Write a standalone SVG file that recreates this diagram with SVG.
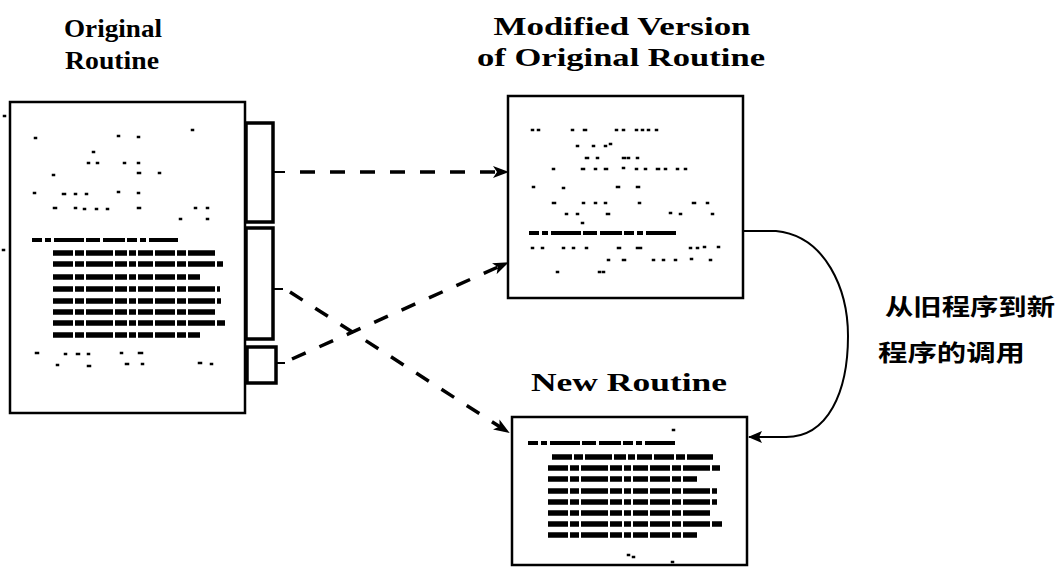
<svg xmlns="http://www.w3.org/2000/svg" width="1058" height="568" viewBox="0 0 1058 568">
<style>
.bg{fill:#fff}
.page{fill:#fff;stroke:#000;stroke-width:2.5}
.tab{fill:#fff;stroke:#000;stroke-width:3.5}
.title{font-family:"Liberation Serif",serif;font-weight:bold;font-size:25px;fill:#000;text-anchor:middle}
.cjk{font-family:"Noto Sans CJK SC",sans-serif;font-weight:bold;font-size:23px;fill:#000}
.dots{fill:none;stroke:#000;stroke-width:2.5;stroke-linecap:square}
.gl{fill:none;stroke:#000;stroke-width:5.5;stroke-dasharray:20 2 9 2 27 2 12 2 7 2 15 2}
.hd{fill:none;stroke:#000;stroke-width:4;stroke-dasharray:10 3 6 3 30 2 14 3 22 2}
.dash{fill:none;stroke:#000;stroke-width:3.5;stroke-dasharray:15 15}
.solid{fill:none;stroke:#000;stroke-width:2}
</style>
<defs>
<marker id="ah" markerUnits="userSpaceOnUse" markerWidth="16" markerHeight="12" refX="14" refY="6" orient="auto">
<path d="M0,0 L16,6 L0,12 L4,6 z" fill="#000"/>
</marker>
<marker id="ah2" markerUnits="userSpaceOnUse" markerWidth="14" markerHeight="12" refX="13" refY="6" orient="auto">
<path d="M0,0 L14,6 L0,12 L3,6 z" fill="#000"/>
</marker>
</defs>
<rect class="bg" x="0" y="0" width="1058" height="568"/>

<g id="node-original">
<text class="title" x="113" y="37" textLength="98" lengthAdjust="spacingAndGlyphs">Original</text>
<text class="title" x="112" y="69" textLength="94" lengthAdjust="spacingAndGlyphs">Routine</text>
<rect class="page" x="10" y="102" width="235" height="311"/>
<rect class="tab" x="246" y="123" width="27" height="99"/>
<rect class="tab" x="246" y="228" width="27" height="111"/>
<rect class="tab" x="247" y="347" width="29" height="36"/>
<path class="dots" d="M35,138h1 M118,136h1 M138,137h1 M192,130h1 M93,152h1 M88,163h1 M97,163h1 M124,163h1 M138,163h1 M53,175h1 M138,173h2 M159,173h1 M34,193h1 M63,194h2 M75,194h1 M86,194h1 M118,192h1 M138,193h1 M54,208h2 M75,208h1 M84,209h1 M96,209h1 M107,209h1 M138,208h2 M195,208h1 M207,208h1 M180,219h1 M207,219h1 M36,353h2 M65,354h1 M77,354h2 M88,354h1 M121,353h1 M139,353h3 M57,365h1 M88,366h2 M126,364h2 M142,364h1 M199,363h2 M211,364h1 M4,116h1 M3,250h1"/>
<path class="hd" d="M32,240 H178"/>
<path class="gl" d="M53,253 H215 M53,264 H223 M53,277 H200 M53,289 H220 M53,301 H221 M53,312 H216 M53,323 H225 M53,335 H200"/>
</g>

<g id="node-modified">
<text class="title" x="622" y="35" textLength="257" lengthAdjust="spacingAndGlyphs">Modified Version</text>
<text class="title" x="621" y="66" textLength="288" lengthAdjust="spacingAndGlyphs">of Original Routine</text>
<rect class="page" x="508" y="96" width="235" height="202"/>
<path class="dots" d="M532,130h1 M538,130h1 M572,130h1 M584,130h2 M616,130h1 M623,130h1 M636,130h1 M642,130h1 M648,130h1 M656,130h1 M577,146h1 M593,146h1 M605,146h1 M610,144h1 M586,158h2 M597,158h1 M623,158h2 M628,158h1 M637,158h1 M553,169h1 M582,169h2 M595,169h1 M605,169h2 M623,168h1 M636,169h1 M645,169h1 M657,169h2 M665,169h1 M677,169h1 M685,169h1 M533,187h1 M563,188h1 M617,187h2 M637,187h2 M553,203h2 M583,203h1 M595,203h1 M605,203h1 M639,203h1 M693,203h2 M707,203h1 M566,214h1 M577,214h1 M607,214h2 M670,213h1 M680,214h1 M712,214h1 M582,223h1 M532,248h1 M542,248h1 M563,248h1 M573,248h1 M586,248h1 M618,248h2 M637,248h4 M690,248h1 M697,248h1 M704,247h1 M718,247h1 M608,260h1 M623,260h2 M653,260h1 M663,260h1 M675,260h1 M691,259h1 M710,260h1 M557,272h1 M599,272h1 M603,272h1"/>
<path class="hd" d="M529,233 H677"/>
</g>

<g id="node-new">
<text class="title" x="629" y="391" textLength="196" lengthAdjust="spacingAndGlyphs">New Routine</text>
<rect class="page" x="512" y="417" width="235" height="148"/>
<path class="dots" d="M673,430h1 M628,555h1 M633,557h1 M672,562h1"/>
<path class="hd" d="M528,443 H675"/>
<path class="gl" d="M552,457 H713 M548,468 H720 M548,479 H697 M548,491 H717 M548,502 H717 M548,513 H712 M548,524 H722 M548,535 H697"/>
</g>

<g id="label-call">
<text class="cjk" x="885" y="315" textLength="170" lengthAdjust="spacingAndGlyphs">从旧程序到新</text>
<text class="cjk" x="878" y="361" textLength="147" lengthAdjust="spacingAndGlyphs">程序的调用</text>
</g>

<g id="connectors">
<path class="solid" d="M273,172 H285 M273,289 H283 M276,363 H285" stroke-width="3"/>
<path class="dash" d="M300,172 H507" marker-end="url(#ah)"/>
<path class="dash" d="M292,359 L507,263" marker-end="url(#ah)"/>
<path class="dash" d="M290,292 L508,432" marker-end="url(#ah)"/>
<path class="solid" d="M743,231 H776 C826,236 848,290 848,336 C848,392 828,437 786,437 H749" marker-end="url(#ah2)"/>
</g>
</svg>
